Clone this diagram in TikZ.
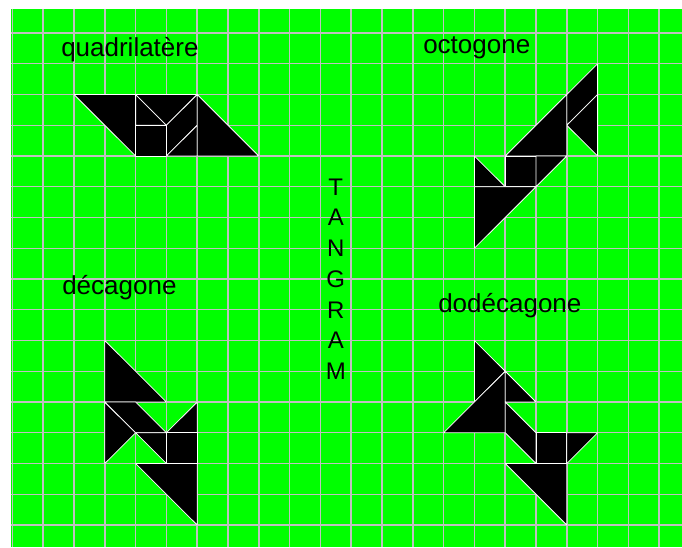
\documentclass[tikz,border=0pt]{standalone}
\usepackage{fontspec}
\setmainfont{Liberation Sans}
\definecolor{bggreen}{RGB}{0,255,0}
\definecolor{gridgray}{RGB}{192,192,192}
\tikzset{
  gridline/.style={draw=gridgray, line width=1.1pt},
  piece/.style={fill=black, draw=white, line width=0.6pt, line join=round},
  shapelabel/.style={anchor=base west, inner sep=0pt, font=\fontsize{19.5}{23}\selectfont},
  letter/.style={anchor=center, inner sep=0pt, font=\fontsize{18}{20}\selectfont}
}
\begin{document}
\begin{tikzpicture}[x=0.75pt,y=-0.75pt]
\useasboundingbox (0,0) rectangle (682,547);
\fill[white] (0,0) rectangle (682,547);
\fill[bggreen] (11,9) rectangle (682,547);
\foreach \k in {0,...,21} \draw[gridline] ({12.4+30.8*\k},9) -- ({12.4+30.8*\k},547);
\foreach \j in {0,...,16} \draw[gridline] (11,{33+30.75*\j}) -- (682,{33+30.75*\j});

\node[shapelabel] (quad) at (61,56) {quadrilatère};
\node[shapelabel] (octo) at (423,53) {octogone};
\node[shapelabel] (deca) at (62,294) {décagone};
\node[shapelabel] (dodeca) at (438,312) {dodécagone};

\begin{scope}[shift={(12.4,33)}, x=23.1pt, y=-23.0625pt]
% quadrilatere
\draw[piece] (2,2) -- (4,2) -- (4,4) -- cycle;
\draw[piece] (4,2) -- (5,3) -- (4,3) -- cycle;
\draw[piece] (4,2) -- (6,2) -- (5,3) -- cycle;
\draw[piece] (4,3) -- (5,3) -- (5,4) -- (4,4) -- cycle;
\draw[piece] (5,3) -- (6,2) -- (6,3) -- (5,4) -- cycle;
\draw[piece] (5,4) -- (6,3) -- (6,4) -- cycle;
\draw[piece] (6,2) -- (6,4) -- (8,4) -- cycle;
% octogone
\draw[piece] (18,2) -- (19,1) -- (19,2) -- (18,3) -- cycle;
\draw[piece] (18,3) -- (19,2) -- (19,4) -- cycle;
\draw[piece] (16,4) -- (18,2) -- (18,4) -- cycle;
\draw[piece] (16,4) -- (17,4) -- (17,5) -- (16,5) -- cycle;
\draw[piece] (17,4) -- (18,4) -- (17,5) -- cycle;
\draw[piece] (15,4) -- (16,5) -- (15,5) -- cycle;
\draw[piece] (15,5) -- (17,5) -- (15,7) -- cycle;
% decagone
\draw[piece] (3,10) -- (3,12) -- (5,12) -- cycle;
\draw[piece] (3,12) -- (4,13) -- (3,14) -- cycle;
\draw[piece] (3,12) -- (4,12) -- (5,13) -- (4,13) -- cycle;
\draw[piece] (4,13) -- (5,13) -- (5,14) -- cycle;
\draw[piece] (5,13) -- (6,12) -- (6,13) -- cycle;
\draw[piece] (5,13) -- (6,13) -- (6,14) -- (5,14) -- cycle;
\draw[piece] (4,14) -- (6,14) -- (6,16) -- cycle;
% dodecagone
\draw[piece] (15,10) -- (16,11) -- (15,12) -- cycle;
\draw[piece] (14,13) -- (16,11) -- (16,13) -- cycle;
\draw[piece] (16,11) -- (17,12) -- (16,12) -- cycle;
\draw[piece] (16,12) -- (17,13) -- (17,14) -- (16,13) -- cycle;
\draw[piece] (17,13) -- (18,13) -- (18,14) -- (17,14) -- cycle;
\draw[piece] (18,13) -- (19,13) -- (18,14) -- cycle;
\draw[piece] (16,14) -- (18,14) -- (18,16) -- cycle;
% TANGRAM
\node[letter] (t1) at (10.5,5) {T};
\node[letter] (t2) at (10.5,6) {A};
\node[letter] (t3) at (10.5,7) {N};
\node[letter] (t4) at (10.5,8) {G};
\node[letter] (t5) at (10.5,9) {R};
\node[letter] (t6) at (10.5,10) {A};
\node[letter] (t7) at (10.5,11) {M};
\end{scope}
\end{tikzpicture}
\end{document}
